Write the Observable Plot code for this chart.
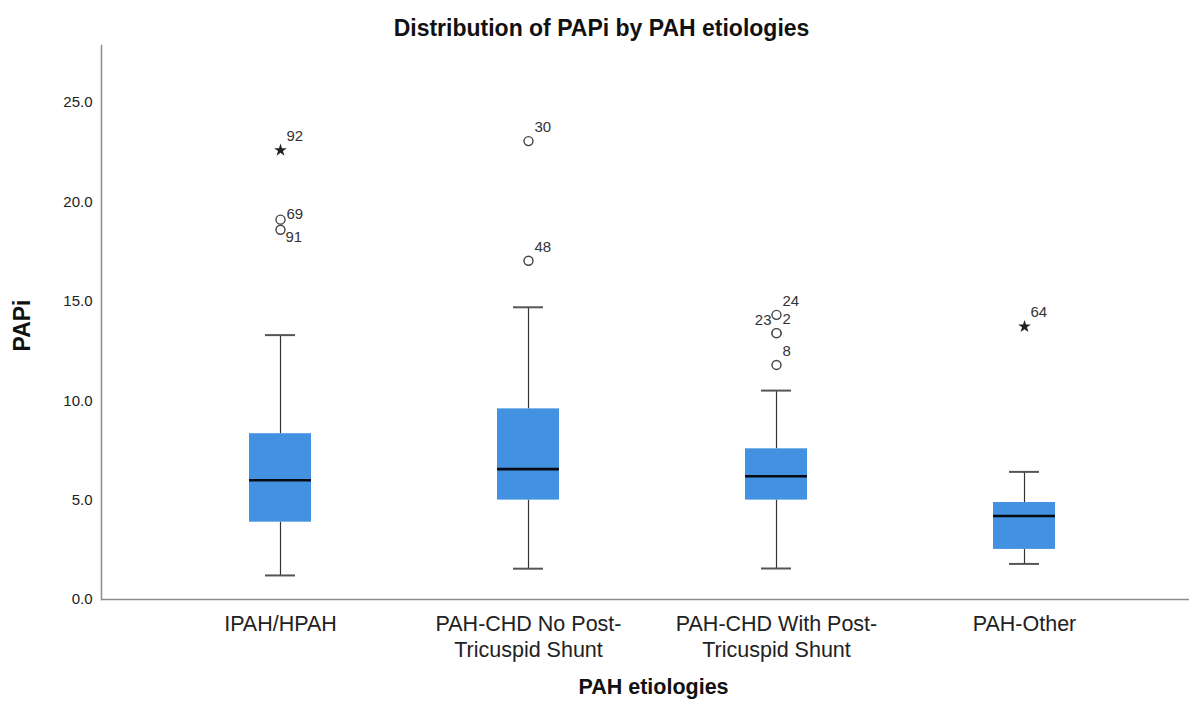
<!DOCTYPE html>
<html>
<head>
<meta charset="utf-8">
<script src="https://cdn.jsdelivr.net/npm/d3@7"></script>
<script src="https://cdn.jsdelivr.net/npm/@observablehq/plot@0.6"></script>
<style>
  html, body { margin: 0; padding: 0; background: #fff; }
  #chart svg { display: block; }
</style>
</head>
<body>
<div id="chart"></div>
<script>
// ---- Data ----
const categories = ["IPAH/HPAH", "PAH-CHD No Post-Tricuspid Shunt", "PAH-CHD With Post-Tricuspid Shunt", "PAH-Other"];
const tickLabels = ["IPAH/HPAH", "PAH-CHD No Post-\nTricuspid Shunt", "PAH-CHD With Post-\nTricuspid Shunt", "PAH-Other"];
const whiskerLow  = [1.21, 1.55, 1.56, 1.79];
const q1          = [3.89, 5.00, 5.00, 2.52];
const median      = [6.00, 6.56, 6.20, 4.20];
const q3          = [8.34, 9.59, 7.58, 4.88];
const whiskerHigh = [13.30, 14.70, 10.51, 6.42];

const outlierGroup = [0, 0, 0, 1, 1, 2, 2, 2, 2, 3];
const outlierValue = [22.60, 19.11, 18.60, 23.06, 17.04, 14.32, 13.40, 13.40, 11.80, 13.73];
const outlierId    = ["92", "69", "91", "30", "48", "24", "23", "2", "8", "64"];
const outlierKind  = ["extreme", "mild", "mild", "mild", "mild", "mild", "mild", "mild", "mild", "extreme"];

const yTicks = [0, 5, 10, 15, 20, 25];

// ---- Build tables ----
const boxes = categories.map((c, i) => ({
  cat: c, low: whiskerLow[i], q1: q1[i], med: median[i], q3: q3[i], high: whiskerHigh[i]
}));
const outliers = outlierValue.map((v, i) => ({
  cat: categories[outlierGroup[i]], value: v, id: outlierId[i], kind: outlierKind[i]
}));
const labelFor = new Map(categories.map((c, i) => [c, tickLabels[i]]));

const boxColor = "#4391e1";
const font = "'Liberation Sans', Arial, sans-serif";

const upperLabels = outliers.filter(d => !["69", "91", "23"].includes(d.id));

const chart = Plot.plot({
  width: 1189,
  height: 702,
  marginLeft: 101,
  marginRight: 0,
  marginTop: 45,
  marginBottom: 103,
  style: { fontFamily: font, background: "#fff", color: "#222" },
  x: { type: "band", domain: categories, padding: 0, insetLeft: 55, insetRight: 41 },
  y: { domain: [0, 27.87] },
  marks: [
    Plot.frame({ anchor: "left", stroke: "#8c8c8c", strokeWidth: 1.5 }),
    Plot.ruleY([0], { stroke: "#8c8c8c", strokeWidth: 1.5 }),
    Plot.axisY({ ticks: yTicks, tickFormat: d3.format(".1f"), tickSize: 0, tickPadding: 9,
                 fontSize: 15, label: null, fill: "#222" }),
    Plot.axisX({ tickSize: 0, tickPadding: 13, tickFormat: d => labelFor.get(d),
                 fontSize: 21.5, lineHeight: 1.2, label: null, fill: "#222" }),
    // whiskers
    Plot.ruleX(boxes, { x: "cat", y1: "q3", y2: "high", stroke: "#333", strokeWidth: 1.2 }),
    Plot.ruleX(boxes, { x: "cat", y1: "low", y2: "q1", stroke: "#333", strokeWidth: 1.2 }),
    Plot.tickY(boxes, { x: "cat", y: "high", stroke: "#555", strokeWidth: 2, insetLeft: 109, insetRight: 109 }),
    Plot.tickY(boxes, { x: "cat", y: "low", stroke: "#555", strokeWidth: 2, insetLeft: 109, insetRight: 109 }),
    // boxes
    Plot.barY(boxes, { x: "cat", y1: "q1", y2: "q3", fill: boxColor, insetLeft: 93, insetRight: 93 }),
    Plot.tickY(boxes, { x: "cat", y: "med", stroke: "#0a0a14", strokeWidth: 2.6, insetLeft: 93, insetRight: 93 }),
    // outliers
    Plot.dot(outliers.filter(d => d.kind === "mild"), { x: "cat", y: "value", r: 4.5, stroke: "#444", strokeWidth: 1.4, fill: "#fff" }),
    Plot.dot(outliers.filter(d => d.kind === "extreme"), { x: "cat", y: "value", symbol: "star", r: 4, fill: "#222", stroke: "none" }),
    Plot.text(upperLabels, { x: "cat", y: "value", text: "id", textAnchor: "start", dx: 6, dy: -14, fontSize: 15, fill: "#333" }),
    Plot.text(outliers.filter(d => d.id === "69"), { x: "cat", y: "value", text: "id", textAnchor: "start", dx: 6, dy: -5, fontSize: 15, fill: "#333" }),
    Plot.text(outliers.filter(d => d.id === "91"), { x: "cat", y: "value", text: "id", textAnchor: "start", dx: 5, dy: 7, fontSize: 15, fill: "#333" }),
    Plot.text(outliers.filter(d => d.id === "23"), { x: "cat", y: "value", text: "id", textAnchor: "end", dx: -5, dy: -13, fontSize: 15, fill: "#333" }),
    // titles
    Plot.text(["Distribution of PAPi by PAH etiologies"], { frameAnchor: "top", lineAnchor: "middle", dx: -44, dy: -17, fontSize: 23, fontWeight: "bold", fill: "#111" }),
    Plot.text(["PAPi"], { frameAnchor: "left", textAnchor: "middle", lineAnchor: "middle", dx: -79, dy: 3, rotate: -90, fontSize: 23, fontWeight: "bold", fill: "#111" }),
    Plot.text(["PAH etiologies"], { frameAnchor: "bottom", lineAnchor: "middle", dx: 8, dy: 88, fontSize: 21.5, fontWeight: "bold", fill: "#111" })
  ]
});
document.getElementById("chart").appendChild(chart);
</script>
</body>
</html>
